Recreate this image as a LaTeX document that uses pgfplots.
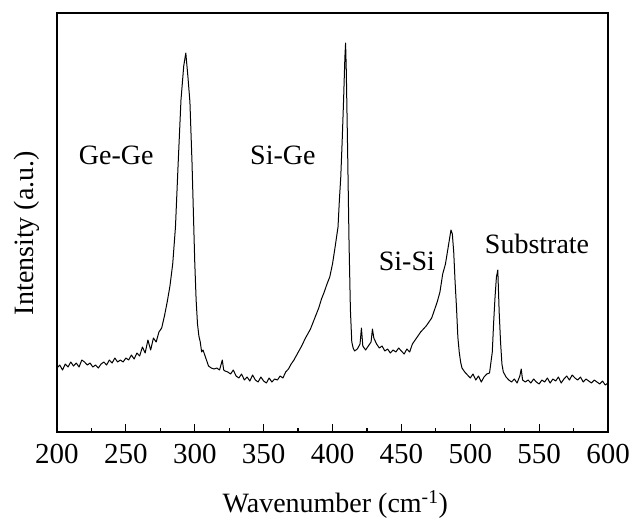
\documentclass[border=0pt]{standalone}
\usepackage{pgfplots}
\pgfplotsset{compat=1.18}
\usepackage{fontspec}
\setmainfont{Liberation Serif}

% Raman spectrum of a SiGe layer (intensity in arbitrary units)
\pgfplotstableread{
w I
200 64
202 67
204 62
206 68
208 65
210 70
212 66
214 69
216 65
218 72
220 70
222 67
224 69
226 65
228 67
230 64
232 68
234 70
236 67
238 72
240 69
242 74
244 70
246 72
248 70
250 74
252 72
254 77
256 73
258 79
260 76
262 85
264 79
266 92
268 82
270 94
272 90
274 100
276 104
278 116
280 130
282 146
284 168
286 205
288 270
290 332
292 366
293.5 379
295 356
296.5 330
298 270
299 220
300 170
301 132
302 108
303 96
304 90
305 80
306 82
308 74
310 66
312 64
314 63
316 64
318 62
320 72
321 62
322 61
324 60
326 58
328 62
330 56
332 54
334 58
336 52
338 55
340 51
342 57
344 52
346 50
348 55
350 51
352 49
354 54
356 50
358 53
360 52
362 56
364 54
366 60
368 63
370 68
372 72
374 77
376 82
378 87
380 93
382 98
384 103
386 110
388 117
390 124
392 133
394 140
396 148
398 155
400 168
402 186
404 205
405 232
406 255
407 290
408 330
409 375
409.5 389
410 362
411 280
412 190
413 122
414 90
415 84
416 81
418 83
420 88
421 104
422 86
424 82
426 86
428 90
429 103
430 94
432 88
434 84
436 86
438 81
440 83
442 79
444 82
446 80
448 84
450 81
452 78
454 83
456 80
458 88
460 92
462 96
464 100
466 103
468 106
470 110
472 114
474 122
476 130
478 140
480 158
482 168
484 185
486 202
487 198
488 180
489 150
490 125
491 95
492 80
493 70
494 64
496 60
498 57
500 54
502 58
504 52
506 56
508 50
510 55
512 58
514 59
516 80
517 110
518 135
519 155
520 162
521 120
522 90
523 68
524 60
526 55
528 52
530 50
532 53
534 49
536 56
537 63
538 52
540 50
542 52
544 49
546 53
548 50
550 48
552 52
554 50
556 54
558 49
560 53
562 51
564 55
566 49
568 53
570 56
572 52
574 57
576 54
578 52
580 55
582 50
584 53
586 51
588 49
590 52
592 50
594 48
596 51
598 47
600 49
}\spectrum

\begin{document}
\begin{tikzpicture}
\begin{axis}[
  scale only axis,
  width=551pt, height=419pt,
  xmin=200, xmax=600, ymin=0, ymax=419,
  axis line style={line width=1.6pt},
  xtick={200,250,...,600},
  minor x tick num=1,
  ytick=\empty,
  xtick pos=bottom,
  tick align=inside,
  major tick length=8pt, minor tick length=4pt,
  every tick/.style={line width=1.2pt, black},
  /pgf/number format/assume math mode=true,
  ticklabel style={font=\fontsize{29}{29}\selectfont},
  xticklabel style={anchor=base, yshift=-31pt},
  xlabel={Wavenumber (cm\textsuperscript{-1})},
  ylabel={Intensity (a.u.)},
  label style={font=\fontsize{28}{28}\selectfont},
  xlabel style={at={(axis description cs:0.505,-0.174)}, anchor=center},
  ylabel style={at={(axis description cs:-0.054,0.475)}, anchor=center},
]
\addplot[black, line width=1pt, line join=round] table[x=w, y=I] {\spectrum};

\node[font=\fontsize{28}{28}\selectfont] at (axis cs:243,277) {Ge-Ge};
\node[font=\fontsize{28}{28}\selectfont] at (axis cs:364,277) {Si-Ge};
\node[font=\fontsize{28}{28}\selectfont] at (axis cs:454,171) {Si-Si};
\node[font=\fontsize{28}{28}\selectfont] at (axis cs:548.5,188) {Substrate};
\end{axis}
\pgfresetboundingbox
\path (-57pt,-91pt) rectangle (574pt,432pt);
\end{tikzpicture}
\end{document}
